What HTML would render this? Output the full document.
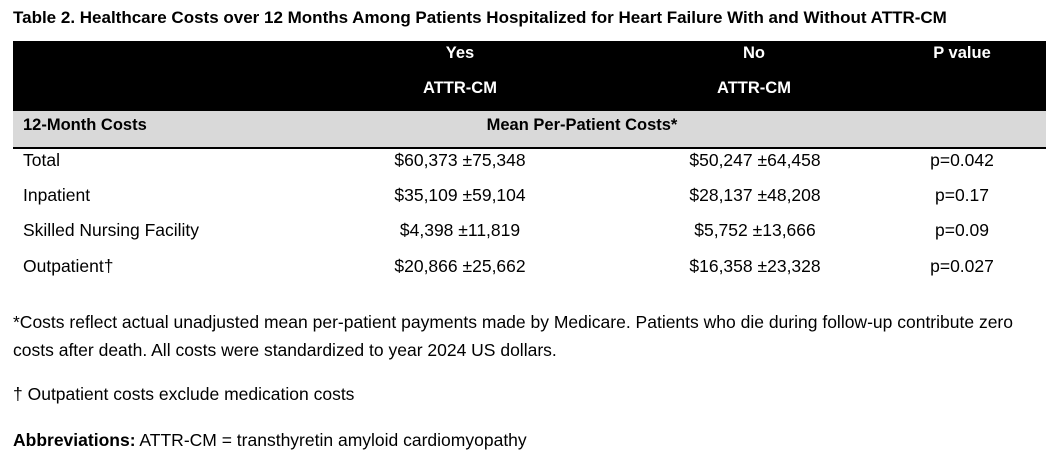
<!DOCTYPE html>
<html><head><style>
body{margin:0;width:1058px;height:466px;background:#fff;font-family:"Liberation Sans",Arial,sans-serif;color:#000;position:relative;overflow:hidden}
.a{position:absolute;white-space:nowrap;font-size:17.5px;line-height:20px}
.b{font-weight:bold}
.c{transform:translateX(-50%)}
</style></head><body>
<div class="a b" style="left:13px;top:8px;font-size:17px">Table 2. Healthcare Costs over 12 Months Among Patients Hospitalized for Heart Failure With and Without ATTR-CM</div>
<div style="position:absolute;left:13px;top:41px;width:1033px;height:70px;background:#000"></div>
<div style="position:absolute;left:13px;top:111px;width:1033px;height:36px;background:#d9d9d9"></div>
<div style="position:absolute;left:13px;top:147px;width:1033px;height:1.5px;background:#000"></div>
<div class="a b c" style="left:460px;top:43px;color:#fff;font-size:16.5px">Yes</div>
<div class="a b c" style="left:460px;top:78px;color:#fff;font-size:16.5px">ATTR-CM</div>
<div class="a b c" style="left:754px;top:43px;color:#fff;font-size:16.5px">No</div>
<div class="a b c" style="left:754px;top:78px;color:#fff;font-size:16.5px">ATTR-CM</div>
<div class="a b c" style="left:962px;top:43px;color:#fff;font-size:16.5px">P value</div>
<div class="a b" style="left:23px;top:115px;font-size:16.5px">12-Month Costs</div>
<div class="a b c" style="left:582px;top:115px;font-size:16.5px">Mean Per-Patient Costs*</div>

<div class="a" style="left:23px;top:150px">Total</div>
<div class="a c" style="left:460px;top:150px">$60,373 ±75,348</div>
<div class="a c" style="left:755px;top:150px">$50,247 ±64,458</div>
<div class="a c" style="left:962px;top:150px">p=0.042</div>

<div class="a" style="left:23px;top:185px">Inpatient</div>
<div class="a c" style="left:460px;top:185px">$35,109 ±59,104</div>
<div class="a c" style="left:755px;top:185px">$28,137 ±48,208</div>
<div class="a c" style="left:962px;top:185px">p=0.17</div>

<div class="a" style="left:23px;top:220px">Skilled Nursing Facility</div>
<div class="a c" style="left:460px;top:220px">$4,398 ±11,819</div>
<div class="a c" style="left:755px;top:220px">$5,752 ±13,666</div>
<div class="a c" style="left:962px;top:220px">p=0.09</div>

<div class="a" style="left:23px;top:256px">Outpatient†</div>
<div class="a c" style="left:460px;top:256px">$20,866 ±25,662</div>
<div class="a c" style="left:755px;top:256px">$16,358 ±23,328</div>
<div class="a c" style="left:962px;top:256px">p=0.027</div>

<div class="a" style="left:13px;top:312px">*Costs reflect actual unadjusted mean per-patient payments made by Medicare. Patients who die during follow-up contribute zero</div>
<div class="a" style="left:13px;top:340px">costs after death. All costs were standardized to year 2024 US dollars.</div>
<div class="a" style="left:13px;top:384px">† Outpatient costs exclude medication costs</div>
<div class="a" style="left:13px;top:430px"><b>Abbreviations:</b> ATTR-CM = transthyretin amyloid cardiomyopathy</div>
</body></html>
